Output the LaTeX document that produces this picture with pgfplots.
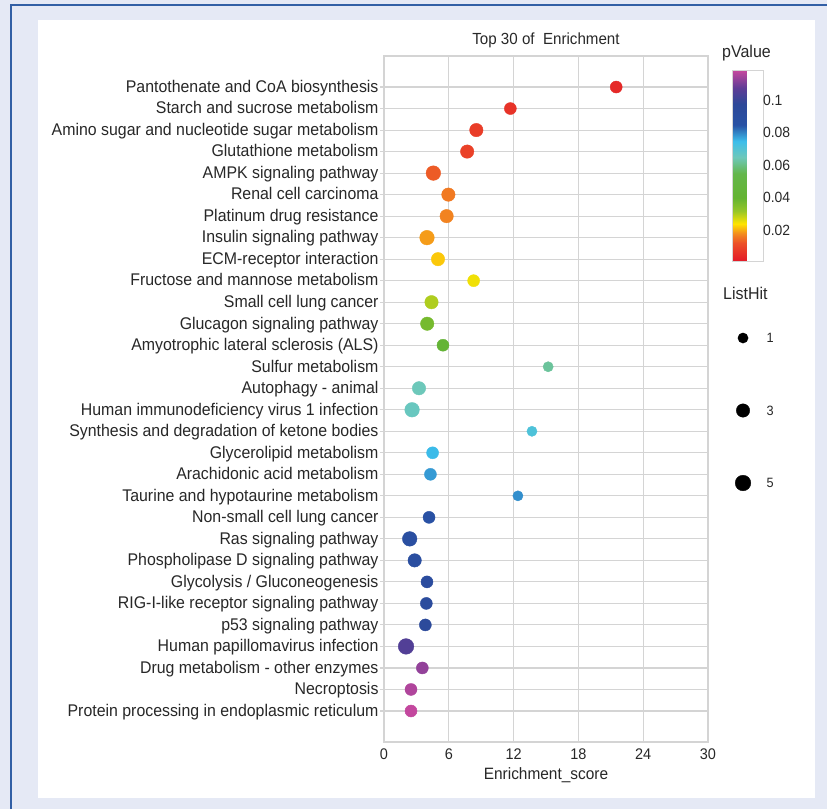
\documentclass[border=0pt]{standalone}
\usepackage{fontspec}
\setmainfont{Liberation Sans}
\newfontfamily\cond{Liberation Sans}[FakeStretch=0.94]
\usepackage{pgfplots}
\pgfplotsset{compat=1.18}
\usepackage{pgfplotstable}
\definecolor{bgpanel}{RGB}{229,233,245}
\definecolor{frameblue}{RGB}{50,95,165}
\definecolor{gridgray}{RGB}{212,212,212}
\definecolor{txt}{RGB}{40,40,40}
\pgfplotsset{colormap={pv}{[1pt]
 rgb255(0pt)=(227,26,40)
 rgb255(11pt)=(236,80,40)
 rgb255(17pt)=(243,140,30)
 rgb255(23pt)=(255,228,0)
 rgb255(31pt)=(150,198,40)
 rgb255(39pt)=(100,180,50)
 rgb255(54pt)=(100,182,75)
 rgb255(64pt)=(110,200,185)
 rgb255(74pt)=(60,190,235)
 rgb255(84pt)=(40,82,165)
 rgb255(97pt)=(45,72,152)
 rgb255(107pt)=(95,60,150)
 rgb255(118pt)=(200,72,158)
}}
\pgfplotstableread{
y x p k
1 21.5 0.004 2
2 11.7 0.006 2
3 8.55 0.008 3
4 7.7 0.009 3
5 4.57 0.013 4
6 5.96 0.016 3
7 5.8 0.017 3
8 3.98 0.019 4
9 5.0 0.022 3
10 8.3 0.025 2
11 4.4 0.030 3
12 4.0 0.037 3
13 5.46 0.042 2
14 15.2 0.062 1
15 3.24 0.065 3
16 2.6 0.066 4
17 13.7 0.071 1
18 4.5 0.075 2
19 4.3 0.078 2
20 12.4 0.079 1
21 4.17 0.086 2
22 2.38 0.089 4
23 2.84 0.090 3
24 3.98 0.092 2
25 3.92 0.093 2
26 3.83 0.095 2
27 2.04 0.105 5
28 3.55 0.113 2
29 2.5 0.116 2
30 2.5 0.118 2
}\enrich
\begin{document}
\begin{tikzpicture}[x=1pt,y=1pt]
\useasboundingbox (0,0) rectangle (827,-809);
\fill[bgpanel] (0,0) rectangle (827,-809);
\draw[frameblue, line width=1.6pt] (11,-809) -- (11,-5) -- (827,-5);
\fill[white] (38,-20) rectangle (815,-798);
\begin{axis}[
  at={(384pt,-742pt)}, anchor=south west,
  scale only axis, width=324pt, height=686pt,
  xmin=0, xmax=30, ymin=-0.442, ymax=31.442, y dir=reverse,
  xtick={0,6,12,18,24,30},
  ytick={1,...,30},
  yticklabels={Pantothenate and CoA biosynthesis,Starch and sucrose metabolism,Amino sugar and nucleotide sugar metabolism,Glutathione metabolism,AMPK signaling pathway,Renal cell carcinoma,Platinum drug resistance,Insulin signaling pathway,ECM-receptor interaction,Fructose and mannose metabolism,Small cell lung cancer,Glucagon signaling pathway,Amyotrophic lateral sclerosis (ALS),Sulfur metabolism,Autophagy - animal,Human immunodeficiency virus 1 infection,Synthesis and degradation of ketone bodies,Glycerolipid metabolism,Arachidonic acid metabolism,Taurine and hypotaurine metabolism,Non-small cell lung cancer,Ras signaling pathway,Phospholipase D signaling pathway,Glycolysis / Gluconeogenesis,RIG-I-like receptor signaling pathway,p53 signaling pathway,Human papillomavirus infection,Drug metabolism - other enzymes,Necroptosis,Protein processing in endoplasmic reticulum},
  /pgf/number format/assume math mode=true,
  typeset ticklabels with strut,
  grid=major,
  major grid style={gridgray, line width=1.1pt},
  axis line style={gridgray, line width=1.1pt},
  tick align=outside, major tick length=4pt,
  ytick pos=left, xtick pos=bottom,
  xtick style={draw=none},
  ytick style={gridgray, line width=1.1pt},
  yticklabel style={font=\cond\fontsize{16.9}{19}\selectfont, text=txt, xshift=2pt, yshift=-1.5pt},
  xticklabel style={font=\cond\fontsize{15.4}{17}\selectfont, text=txt, yshift=2pt},
  xlabel={Enrichment\_score},
  xlabel style={font=\cond\fontsize{16.4}{18}\selectfont, text=txt, yshift=4pt},
  colorbar,
  colormap name=pv,
  point meta min=0.001, point meta max=0.1185,
  colorbar style={
    at={(parent axis.north east)}, anchor=north west, xshift=16pt, yshift=-14pt,
    scale only axis, width=31pt, height=191pt,
    ytick={0.02,0.04,0.06,0.08,0.1},
    yticklabels={0.02,0.04,0.06,0.08,0.1},
    ytick style={draw=none},
    yticklabel style={font=\cond\fontsize{14.8}{16}\selectfont, text=txt, xshift=-4pt},
    axis line style={gridgray, line width=0.8pt},
  },
]
\addplot[scatter, only marks, mark=*,
  point meta=\thisrow{p},
  visualization depends on={2.9+2.2*sqrt(\thisrow{k}) \as \msize},
  scatter/use mapped color={draw=mapped color, fill=mapped color},
  scatter/@pre marker code/.append style={/tikz/mark size=\msize},
] table[x=x, y=y] {\enrich};
\end{axis}
\begin{axis}[
  at={(733pt,-519.25pt)}, anchor=south west,
  scale only axis, width=20pt, height=217.5pt,
  xmin=0, xmax=1, ymin=0, ymax=6, y dir=reverse,
  hide axis, clip=false,
  nodes near coords style={anchor=west, xshift=20pt, font=\cond\fontsize{13.5}{15}\selectfont, text=txt},
]
\addplot[only marks, mark=*, black, mark size=5.1pt, nodes near coords={1}] coordinates {(0.5,1)};
\addplot[only marks, mark=*, black, mark size=6.7pt, nodes near coords={3}] coordinates {(0.5,3)};
\addplot[only marks, mark=*, black, mark size=7.8pt, nodes near coords={5}] coordinates {(0.5,5)};
\end{axis}
\node[font=\cond\fontsize{16.1}{18}\selectfont, text=txt] at (546,-40) {Top 30 of\ \ Enrichment};
\node[font=\cond\fontsize{17}{19}\selectfont, text=txt, anchor=west, inner sep=0pt] at (722,-53) {pValue};
\node[font=\cond\fontsize{17}{19}\selectfont, text=txt, anchor=west, inner sep=0pt] at (723,-293) {ListHit};
\end{tikzpicture}
\end{document}
